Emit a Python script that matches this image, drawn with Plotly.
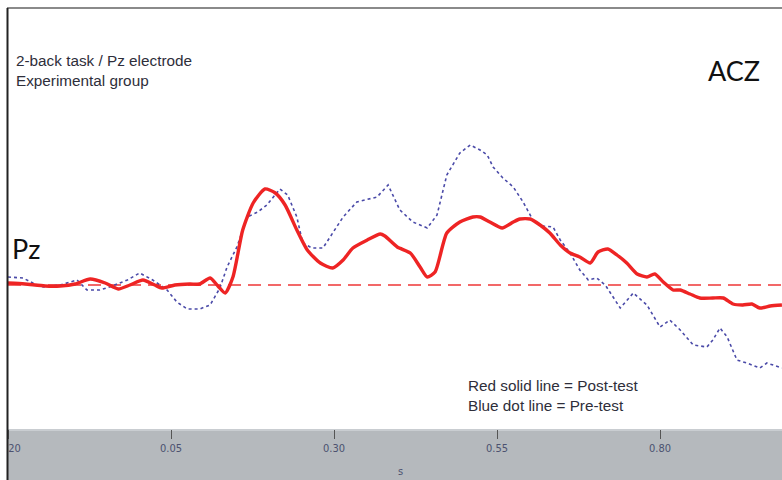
import plotly.graph_objects as go

# ERP waveform at the Pz electrode, 2-back task, experimental group
# time in seconds, amplitude in microvolts (relative units)
post_time = [-0.200, -0.174, -0.143, -0.120, -0.097, -0.074, -0.051, -0.031, -0.013, 0.007,
             0.025, 0.036, 0.056, 0.079, 0.094, 0.110, 0.122, 0.133, 0.145, 0.160,
             0.176, 0.194, 0.210, 0.225, 0.243, 0.259, 0.279, 0.298, 0.314, 0.329,
             0.351, 0.371, 0.378, 0.397, 0.417, 0.432, 0.443, 0.455, 0.473, 0.493,
             0.513, 0.524, 0.539, 0.558, 0.575, 0.585, 0.601, 0.616, 0.631, 0.647,
             0.662, 0.677, 0.693, 0.705, 0.720, 0.734, 0.749, 0.765, 0.780, 0.792,
             0.805, 0.820, 0.831, 0.846, 0.861, 0.881, 0.897, 0.912, 0.927, 0.941,
             0.953, 0.969, 0.987]
post_amp = [0.10, 0.05, -0.05, -0.05, 0.05, 0.30, 0.10, -0.20, 0.00, 0.25,
            0.00, -0.15, 0.00, 0.05, 0.05, 0.35, -0.05, -0.40, 0.40, 2.75,
            4.10, 4.80, 4.60, 4.00, 2.75, 1.75, 1.10, 0.85, 1.25, 1.85,
            2.25, 2.55, 2.45, 1.90, 1.60, 0.90, 0.40, 0.65, 2.60, 3.15,
            3.40, 3.40, 3.15, 2.85, 3.15, 3.30, 3.30, 3.00, 2.60, 2.00,
            1.60, 1.40, 1.10, 1.65, 1.80, 1.50, 1.10, 0.55, 0.40, 0.55,
            0.15, -0.25, -0.25, -0.45, -0.65, -0.65, -0.65, -0.95, -1.00, -0.95,
            -1.15, -1.05, -1.00]

pre_time = [-0.200, -0.177, -0.162, -0.146, -0.120, -0.094, -0.079, -0.059, -0.044, -0.017,
            0.002, 0.022, 0.044, 0.059, 0.075, 0.094, 0.110, 0.125, 0.136, 0.151,
            0.167, 0.183, 0.197, 0.217, 0.229, 0.243, 0.252, 0.266, 0.283, 0.298,
            0.314, 0.335, 0.366, 0.383, 0.401, 0.421, 0.443, 0.458, 0.473, 0.493,
            0.509, 0.524, 0.535, 0.544, 0.559, 0.575, 0.590, 0.605, 0.621, 0.636,
            0.647, 0.662, 0.677, 0.690, 0.703, 0.716, 0.728, 0.739, 0.759, 0.780,
            0.800, 0.815, 0.831, 0.851, 0.872, 0.881, 0.892, 0.903, 0.918, 0.933,
            0.953, 0.964, 0.987]
pre_amp = [0.40, 0.35, 0.10, -0.10, 0.00, 0.25, -0.25, -0.25, -0.10, 0.25,
           0.60, 0.25, -0.25, -0.85, -1.20, -1.20, -1.00, -0.15, 0.90, 1.90,
           3.40, 3.65, 4.00, 4.80, 4.50, 3.40, 2.10, 1.85, 1.85, 2.60,
           3.40, 4.15, 4.40, 5.00, 3.75, 3.15, 2.85, 3.50, 5.50, 6.60,
           7.00, 6.75, 6.50, 5.90, 5.35, 4.90, 4.15, 3.25, 2.95, 2.90,
           2.25, 1.60, 0.75, 0.25, 0.35, 0.00, -0.60, -1.15, -0.40, -1.00,
           -2.10, -1.75, -2.25, -3.00, -3.10, -2.75, -2.15, -2.60, -3.75, -3.90,
           -4.15, -3.90, -4.15]

baseline_amp = 0.0
tick_vals = [-0.20, 0.05, 0.30, 0.55, 0.80]
tick_text = ["-0.20", "0.05", "0.30", "0.55", "0.80"]

x_range = [-0.20, 0.9871]
y_range = [-7.2, 13.8]

# plot-area geometry (pixels) used to place paper-referenced decorations
W, H = 782, 480
ML, MR, MT, MB = 8, 0, 9, 51
PW, PH = W - ML - MR, H - MT - MB


def px(x):
    return (x - ML) / PW


def py(y):
    return (H - MB - y) / PH


fig = go.Figure()

fig.add_trace(go.Scatter(
    x=[x_range[0], x_range[1]], y=[baseline_amp, baseline_amp],
    mode="lines", line=dict(color="#f26868", width=2, dash="13px,7px"),
    hoverinfo="skip", showlegend=False))

fig.add_trace(go.Scatter(
    x=pre_time, y=pre_amp, mode="lines", name="Pre-test",
    line=dict(color="#4a4aa8", width=1.6, dash="3px,3px"),
    showlegend=False))

fig.add_trace(go.Scatter(
    x=post_time, y=post_amp, mode="lines", name="Post-test",
    line=dict(color="#ee2424", width=3.4, shape="spline", smoothing=0.6),
    showlegend=False))

shapes = [
    # grey time-axis band
    dict(type="rect", xref="paper", yref="paper", x0=0, x1=1, y0=py(H), y1=0,
         fillcolor="#b5b9bd", line=dict(width=0), layer="below"),
    dict(type="line", xref="paper", yref="paper", x0=0, x1=1, y0=py(430), y1=py(430),
         line=dict(color="#c9cdd1", width=2), layer="below"),
    # frame: grey top border, dark left border
    dict(type="line", xref="paper", yref="paper", x0=px(7), x1=1, y0=py(8), y1=py(8),
         line=dict(color="#8a8a8a", width=2), layer="above"),
    # mask outside the left frame edge
    dict(type="rect", xref="paper", yref="paper", x0=px(-4), x1=px(7), y0=py(H + 4), y1=py(0),
         fillcolor="white", line=dict(width=0), layer="above"),
    dict(type="line", xref="paper", yref="paper", x0=px(7.5), x1=px(7.5), y0=py(H), y1=py(8),
         line=dict(color="#222222", width=2), layer="above"),
]

text_font = dict(family="Liberation Sans, Arial, sans-serif", size=15.3, color="#2e2e3a")
label_font = dict(family="Lato, Carlito, sans-serif", size=27, color="#111111")
axis_font = dict(family="Liberation Sans Narrow, DejaVu Sans Condensed, sans-serif",
                 size=11, color="#4c5270")

annotations = [
    dict(text="2-back task / Pz electrode", x=px(14), y=py(60), xanchor="left", yanchor="middle",
         font=text_font),
    dict(text="Experimental group", x=px(14), y=py(81), xanchor="left", yanchor="middle",
         font=text_font),
    dict(text="Red solid line = Post-test", x=px(466), y=py(385), xanchor="left", yanchor="middle",
         font=text_font),
    dict(text="Blue dot line = Pre-test", x=px(466), y=py(405), xanchor="left", yanchor="middle",
         font=text_font),
    dict(text="ACZ", x=px(706), y=py(70), xanchor="left", yanchor="middle", font=label_font),
    dict(text="Pz", x=px(10), y=py(248), xanchor="left", yanchor="middle", font=label_font),
    dict(text="s", x=px(400), y=py(471), xanchor="center", yanchor="middle", font=axis_font),
]
for a in annotations:
    a.update(xref="paper", yref="paper", showarrow=False)

fig.update_layout(
    width=W, height=H,
    margin=dict(l=ML, r=MR, t=MT, b=MB, autoexpand=False),
    paper_bgcolor="white", plot_bgcolor="white",
    shapes=shapes, annotations=annotations,
    xaxis=dict(range=x_range, tickvals=tick_vals, ticktext=tick_text,
               ticks="outside", ticklen=9, tickwidth=1, tickcolor="#555555",
               ticklabeloverflow="allow", automargin=False,
               showgrid=False, zeroline=False, showline=False,
               tickfont=axis_font),
    yaxis=dict(range=y_range, visible=False, showgrid=False, zeroline=False),
)

fig.write_html("out.html")
